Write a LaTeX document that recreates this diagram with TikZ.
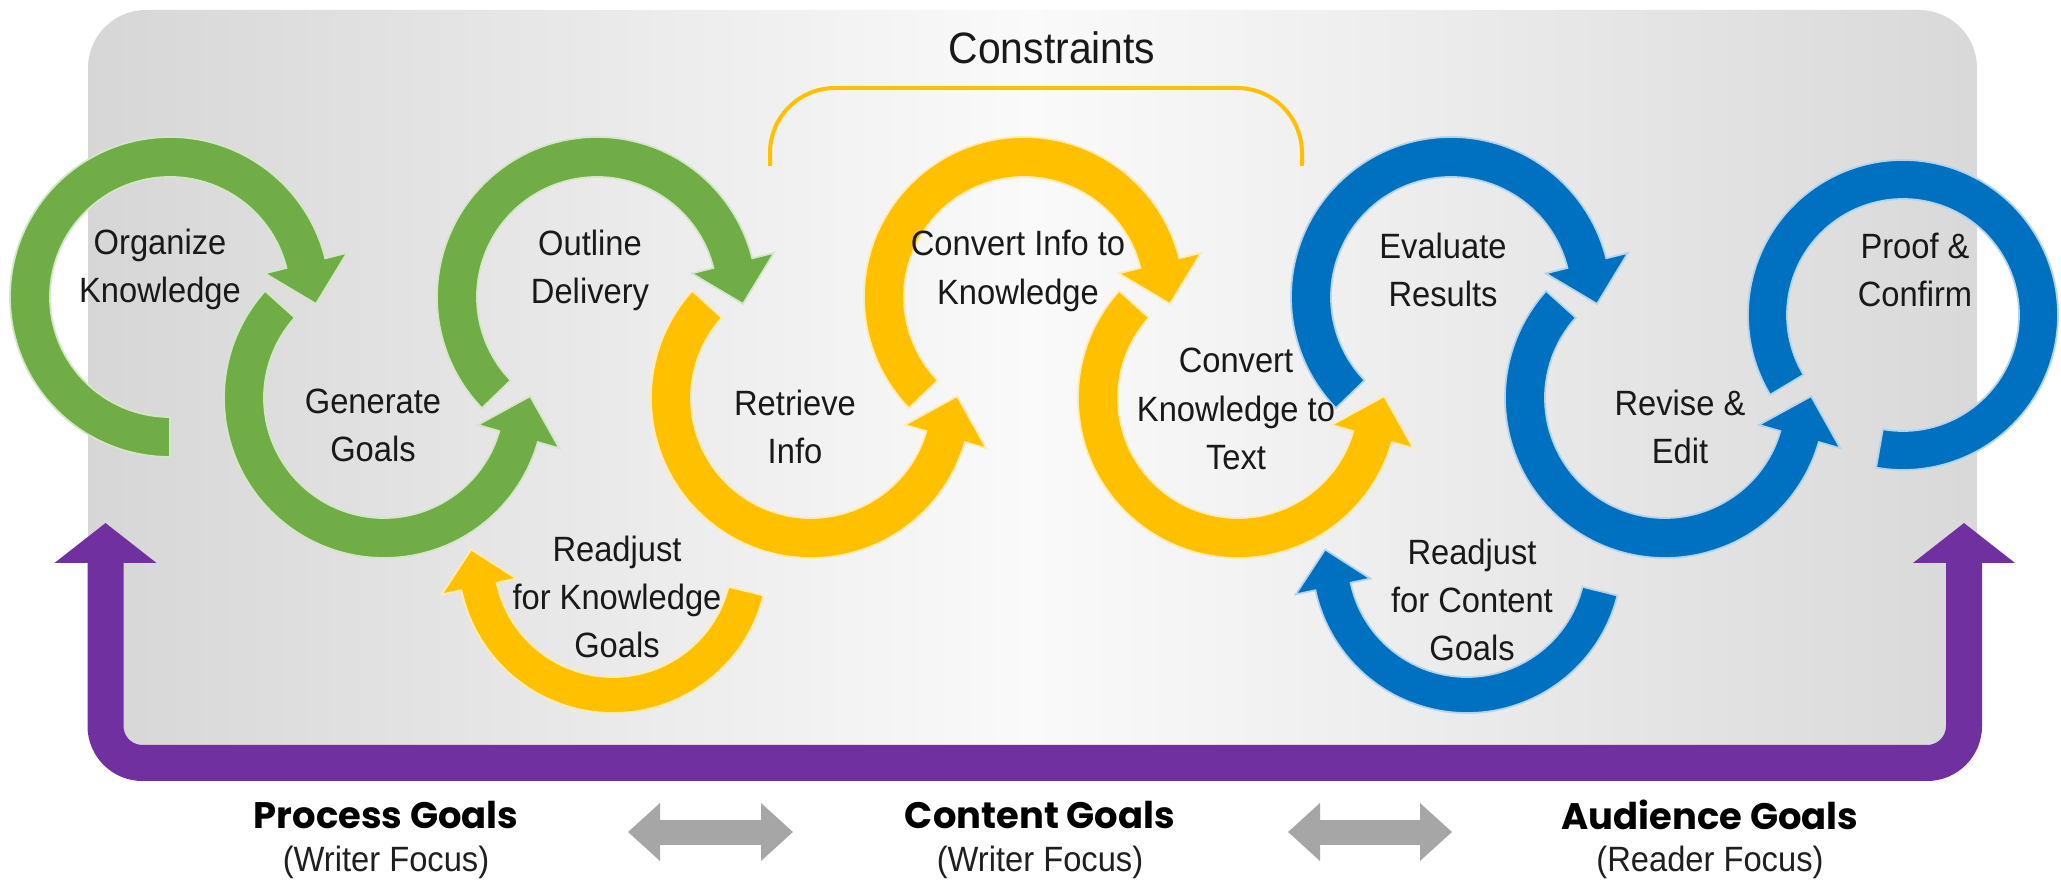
\documentclass[tikz,border=0pt]{standalone}
\usepackage{fontspec}
\setmainfont{Liberation Sans}[FakeStretch=0.93]
\newfontfamily\goalfont{Poppins}
\usetikzlibrary{arrows.meta,calc}

\definecolor{wgreen}{HTML}{70AD47}
\definecolor{wyellow}{HTML}{FFC000}
\definecolor{wblue}{HTML}{0070C0}
\definecolor{wpurple}{HTML}{7030A0}
\definecolor{wgrey}{HTML}{A6A6A6}

% curved band with a head: centre, start, end, outer r, inner r, turn (1 ccw / -1 cw), colour
\newcommand{\ringarrow}[7]{%
  \path[fill=#7, draw=#7!30!white, line width=0.5pt]
    ($(#1)+(#2:#4)$) arc[start angle=#2, end angle=#3, radius=#4]
    -- ($(#1)+({#3}:{#4+0.56*(#4-#5)})$)
    -- ($(#1)+({#3}:{(#4+#5)/2})+({#3+#6*90}:{1.05*(#4-#5)})$)
    -- ($(#1)+({#3}:{#5-0.56*(#4-#5)})$)
    -- ($(#1)+(#3:#5)$) arc[start angle=#3, end angle=#2, radius=#5]
    -- cycle;}

\begin{document}
\begin{tikzpicture}[x=0.1mm, y=0.1mm,
  lbl/.style={align=center, inner sep=0pt, text=black!90, font=\fontsize{10}{13.7}\selectfont},
  goal/.style={inner sep=0pt, text=black, font=\goalfont\bfseries\fontsize{10.5}{12}\selectfont},
  focus/.style={inner sep=0pt, text=black!88, font=\fontsize{10}{12}\selectfont},
  feedback/.style={wpurple, line width=3.6mm, rounded corners=3.7mm,
    {Triangle[length=4mm,width=10mm]}-{Triangle[length=4mm,width=10mm]}},
  tradeoff/.style={wgrey, line width=2.5mm,
    {Triangle[length=3.2mm,width=5.6mm]}-{Triangle[length=3.2mm,width=5.6mm]}},
  constraintline/.style={wyellow, line width=0.4mm, rounded corners=6.5mm}]

\fill[white] (0,0) rectangle (2061,882);
\useasboundingbox (0,0) rectangle (2061,882);

% panel
\shade[left color=gray!32, right color=gray!30, middle color=gray!4, rounded corners=5.8mm]
  (88,119) rectangle (1977,872);

% constraints bracket
\coordinate (cl) at (770,716);
\coordinate (cr) at (1302,716);
\draw[constraintline] (cl) -- (770,794) -- (1302,794) -- (cr);
\node[lbl, font=\fontsize{12.5}{15}\selectfont] (constraints) at (1052,834) {Constraints};

% feedback loop
\coordinate (ltip) at (105.5,359);
\coordinate (rtip) at (1964,359);
\draw[feedback] (ltip) -- (105.5,119) -- (1964,119) -- (rtip);

% circle centres
\coordinate (g1) at (170,585);
\coordinate (g2) at (384,484);
\coordinate (g3) at (597,585);
\coordinate (y1) at (811,484);
\coordinate (y2) at (1024,585);
\coordinate (y3) at (1238,484);
\coordinate (b1) at (1451,585);
\coordinate (b2) at (1665,484);
\coordinate (b3) at (1903,567);
\coordinate (ry) at (613,324);
\coordinate (rb) at (1467,324);

\foreach \c/\s/\e/\t/\col in {g1/270/14/-1/wgreen, g2/138/344/1/wgreen, g3/224/14/-1/wgreen,
    y1/138/344/1/wyellow, y2/224/14/-1/wyellow, y3/138/344/1/wyellow,
    b1/224/14/-1/wblue, b2/138/344/1/wblue}
  \ringarrow{\c}{\s}{\e}{160}{120}{\t}{\col};

% last loop has no head
\path[fill=wblue, draw=wblue!30!white, line width=0.5pt]
  ($(b3)+(211:155)$) arc[start angle=211, end angle=-100, radius=155]
  -- ($(b3)+(-100:116)$) arc[start angle=-100, end angle=211, radius=116] -- cycle;

% readjust loops
\ringarrow{ry}{-14}{-168}{155}{119}{-1}{wyellow}
\ringarrow{rb}{-14}{-168}{155}{119}{-1}{wblue}

\node[lbl] (organize) at (160,613) {Organize\\Knowledge};
\node[lbl] (generate) at (373,457) {Generate\\Goals};
\node[lbl] (outline) at (590,612) {Outline\\Delivery};
\node[lbl] (retrieve) at (795,455) {Retrieve\\Info};
\node[lbl] (infoknow) at (1018,611) {Convert Info to\\Knowledge};
\node[lbl] (knowtext) at (1236,473) {Convert\\Knowledge to\\Text};
\node[lbl] (evaluate) at (1443,612) {Evaluate\\Results};
\node[lbl] (revise) at (1680,455) {Revise \&\\Edit};
\node[lbl] (proof) at (1915,612) {Proof \&\\Confirm};
\node[lbl] (readjk) at (617,285) {Readjust\\for Knowledge\\Goals};
\node[lbl] (readjc) at (1472,282) {Readjust\\for Content\\Goals};

% goal levels
\node[goal] (process) at (386,67) {Process Goals};
\node[focus] (pfocus) at (386,20) {(Writer Focus)};
\node[goal] (content) at (1040,67) {Content Goals};
\node[focus] (cfocus) at (1040,20) {(Writer Focus)};
\node[goal] (audience) at (1710,67) {Audience Goals};
\node[focus] (afocus) at (1710,20) {(Reader Focus)};

\coordinate (t1a) at (628,50);
\coordinate (t1b) at (793,50);
\coordinate (t2a) at (1288,50);
\coordinate (t2b) at (1452,50);
\draw[tradeoff] (t1a) -- (t1b);
\draw[tradeoff] (t2a) -- (t2b);
\end{tikzpicture}
\end{document}
